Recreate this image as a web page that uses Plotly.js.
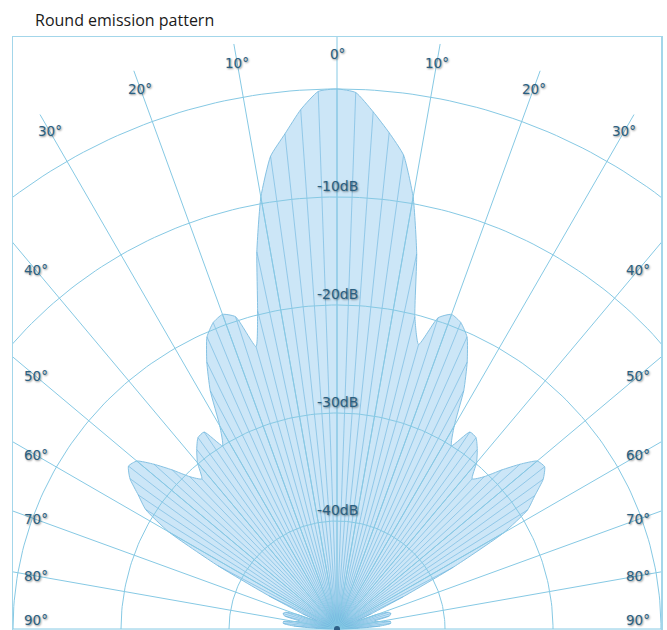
<!DOCTYPE html>
<html>
<head>
<meta charset="utf-8">
<script src="https://cdn.plot.ly/plotly-3.0.1.min.js"></script>
<style>html,body{margin:0;padding:0;background:#fff;}#chart{width:667px;height:630px;}</style>
</head>
<body>
<div id="chart"></div>
<script>
// Angle (degrees from vertical, negative = left) and relative emission (dB)
const angles = [-90,-88,-86,-84,-82,-80,-78,-76,-74,-72,-70,-68,-66,-64,-62,-60,-58,-56,-54,-52,-50,-48,-46,-44,-42,-40,-38,-36,-34,-32,-30,-28,-26,-24,-22,-20,-18,-16,-14,-12,-10,-8,-6,-4,-2,0,2,4,6,8,10,12,14,16,18,20,22,24,26,28,30,32,34,36,38,40,42,44,46,48,50,52,54,56,58,60,62,64,66,68,70,72,74,76,78,80,82,84,86,88,90];
const gainDb = [-50,-48,-46,-45,-45,-46,-46.5,-45,-44.8,-45,-46,-48,-46.5,-43,-37.5,-32,-29.1,-27.8,-26.3,-25.5,-25.8,-27.2,-28.8,-30.4,-31.3,-29.9,-28.9,-28.1,-28,-30,-28.3,-25,-22.5,-20.4,-19.4,-19,-19.6,-22.8,-19.6,-14.3,-9.4,-5.8,-3.9,-1.8,-0.2,0,-0.3,-2,-3.8,-5.7,-9.4,-14.5,-20.2,-22.6,-19.7,-19,-19.4,-20.4,-22.5,-25,-28.3,-30,-28,-28.1,-28.9,-29.9,-31.3,-30.4,-28.8,-27.2,-25.8,-25.6,-26.4,-27.9,-29.2,-32.2,-37.8,-43.2,-46.5,-48,-46,-45,-44.8,-45,-46.5,-46,-45,-45,-46,-48,-50];
const ringDb = [0, -10, -20, -30, -40];
const ringLabels = ['', '-10dB', '-20dB', '-30dB', '-40dB'];
const spokeAngles = [-90,-80,-70,-60,-50,-40,-30,-20,-10,0,10,20,30,40,50,60,70,80,90];
const spokeLabels = ['90°','80°','70°','60°','50°','40°','30°','20°','10°','0°','10°','20°','30°','40°','50°','60°','70°','80°','90°'];

const FLOOR = -50;
const rad = d => d * Math.PI / 180;
const toR = db => Math.max(db - FLOOR, 0);
const px = (a, r) => r * Math.sin(rad(a));
const py = (a, r) => r * Math.cos(rad(a));

const gridColor = '#86c9e4';
const labelFont = {family: 'DejaVu Sans, Verdana, sans-serif', size: 13.5, color: '#2a5f80', shadow: '1px 1px 2px rgba(0,0,0,0.45)'};

// pattern fill
const patX = angles.map((a, i) => px(a, toR(gainDb[i])));
const patY = angles.map((a, i) => py(a, toR(gainDb[i])));
const pattern = {
  type: 'scatter', mode: 'lines', x: patX, y: patY, fill: 'toself',
  fillcolor: '#cce6f7', line: {color: '#86c2e3', width: 1, shape: 'spline', smoothing: 0.5},
  hoverinfo: 'skip'
};
// fan lines from origin to each data point
const fanX = [], fanY = [];
angles.forEach((a, i) => { fanX.push(0, patX[i], null); fanY.push(0, patY[i], null); });
const fan = {type: 'scatter', mode: 'lines', x: fanX, y: fanY, line: {color: 'rgba(105,180,222,0.75)', width: 0.8}, hoverinfo: 'skip'};

// rings
const rX = [], rY = [];
ringDb.forEach(db => {
  const r = toR(db);
  for (let a = -90; a <= 90; a += 1) { rX.push(px(a, r)); rY.push(py(a, r)); }
  rX.push(null); rY.push(null);
});
const rings = {type: 'scatter', mode: 'lines', x: rX, y: rY, line: {color: gridColor, width: 1}, hoverinfo: 'skip'};

// spokes
const SPOKE = 55;
const sX = [], sY = [];
spokeAngles.forEach(a => { sX.push(0, px(a, SPOKE), null); sY.push(0, py(a, SPOKE), null); });
const spokes = {type: 'scatter', mode: 'lines', x: sX, y: sY, line: {color: gridColor, width: 1}, hoverinfo: 'skip'};

const center = {type: 'scatter', mode: 'markers', x: [0], y: [0], marker: {color: '#2d5f86', size: 6}, cliponaxis: false, hoverinfo: 'skip'};

const annotations = [];
const LR = 53.2, XMAX = 27.9;
spokeAngles.forEach((a, i) => {
  let x = px(a, LR), y = py(a, LR);
  if (Math.abs(x) > XMAX) {
    x = Math.sign(x) * XMAX;
    y = Math.max(XMAX / Math.tan(rad(Math.abs(a))), 0.8);
  }
  annotations.push({x: x, y: y, xref: 'x', yref: 'y', text: spokeLabels[i], showarrow: false, font: labelFont, xanchor: 'center', yanchor: 'middle'});
});
ringDb.forEach((db, i) => {
  if (!ringLabels[i]) return;
  annotations.push({x: 0, y: toR(db) + 1.0, xref: 'x', yref: 'y', text: ringLabels[i], showarrow: false, font: Object.assign({}, labelFont, {size: 14}), xanchor: 'center', yanchor: 'middle'});
});

const axBase = {showgrid: false, zeroline: false, showticklabels: false, ticks: '', showline: true, mirror: true, linecolor: '#a3d6ea', linewidth: 1.5, fixedrange: true};
const layout = {
  width: 667, height: 630,
  margin: {l: 13, r: 6, t: 37, b: 0},
  paper_bgcolor: '#ffffff', plot_bgcolor: '#ffffff',
  showlegend: false,
  title: {text: 'Round emission pattern', x: 35/667, xanchor: 'left', y: 1 - 20/630, yanchor: 'middle', font: {family: 'Open Sans, sans-serif', size: 16, color: '#1a1a1a'}},
  xaxis: Object.assign({range: [-30, 30]}, axBase),
  yaxis: Object.assign({range: [-0.09, 54.81]}, axBase),
  annotations: annotations
};
Plotly.newPlot('chart', [pattern, fan, rings, spokes, center], layout, {displayModeBar: false, staticPlot: true});
</script>
</body>
</html>
